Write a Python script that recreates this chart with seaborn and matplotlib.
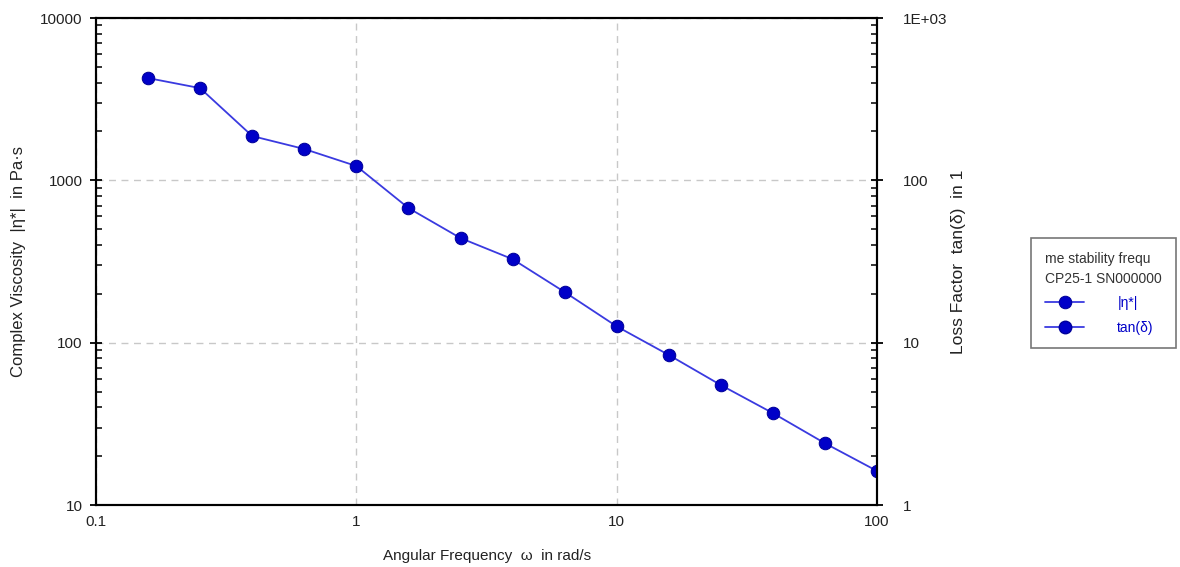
import matplotlib
matplotlib.use("Agg")
import matplotlib.pyplot as plt
import matplotlib.ticker as mticker
import pandas as pd
import seaborn as sns

# angular frequency (rad/s) and complex viscosity (Pa*s)
omega = [0.158, 0.251, 0.398, 0.631, 1.0, 1.585, 2.512, 3.981, 6.31, 10.0,
         15.85, 25.12, 39.81, 63.1, 100.0]
eta = [4270, 3700, 1875, 1560, 1225, 675, 441, 327, 205, 126,
       84, 54.8, 36.8, 24.0, 16.2]
# loss factor has no visible points in the reference
tan_delta = []

legend_title = "me stability frequ\nCP25-1 SN000000"
labels = ["|η*|", "tan(δ)"]

sns.set_style("white")
plt.rcParams["font.family"] = ["Liberation Sans", "DejaVu Sans"]
plt.rcParams["font.size"] = 11

df = pd.DataFrame({"omega": omega, "eta": eta})

fig = plt.figure(figsize=(11.8, 5.67), dpi=100)
ax = fig.add_axes([0.0814, 0.1093, 0.6619, 0.8589])

line_c = "#3a3ae0"
mark_c = "#0000c8"

sns.lineplot(data=df, x="omega", y="eta", ax=ax, color=line_c, lw=1.3,
             marker="o", markersize=9, markerfacecolor=mark_c,
             markeredgecolor="#00009a", label=labels[0], legend=False)

ax.set_xscale("log")
ax.set_yscale("log")
ax.set_xlim(0.1, 100)
ax.set_ylim(10, 10000)
ax.xaxis.set_major_formatter(mticker.FuncFormatter(lambda v, p: f"{v:g}"))
ax.yaxis.set_major_formatter(mticker.FuncFormatter(lambda v, p: f"{v:g}"))
ax.xaxis.set_minor_formatter(mticker.NullFormatter())
ax.yaxis.set_minor_formatter(mticker.NullFormatter())

ax.grid(True, which="major", ls=(0, (5, 4)), color="#c8c8c8", lw=1)
for s in ax.spines.values():
    s.set_color("black")
    s.set_linewidth(1.5)

ax.tick_params(which="major", direction="inout", length=9, width=1.3,
               colors="black", labelcolor="#222222", labelsize=11)
ax.tick_params(which="minor", direction="in", length=4, width=1.1, colors="black")
ax.tick_params(axis="y", which="major", pad=5)
ax.tick_params(axis="x", which="major", pad=3)

ax.set_xlabel("Angular Frequency  ω  in rad/s", fontsize=11, color="#222222", labelpad=14)
ax.set_ylabel("Complex Viscosity  |η*|  in Pa·s", fontsize=12, color="#222222")
ax.yaxis.set_label_coords(-0.09, 0.5)

ax2 = ax.twinx()
ax2.plot(tan_delta, tan_delta, color=line_c, lw=1.3, marker="o", markersize=9,
         markerfacecolor=mark_c, markeredgecolor="#00009a", label=labels[1])
ax2.set_yscale("log")
ax2.set_ylim(1, 1000)
ax2.set_yticks([1, 10, 100, 1000])
ax2.set_yticklabels(["1", "10", "100", "1E+03"])
ax2.yaxis.set_minor_formatter(mticker.NullFormatter())
ax2.tick_params(which="major", direction="inout", length=9, width=1.3,
                colors="black", labelcolor="#222222", labelsize=11, pad=14)
ax2.tick_params(which="minor", direction="in", length=4, width=1.1, colors="black")
ax2.set_ylabel("Loss Factor  tan(δ)  in 1", fontsize=12.5, color="#222222")
ax2.yaxis.set_label_coords(1.095, 0.5)
ax2.grid(False)
for s in ax2.spines.values():
    s.set_color("black")
    s.set_linewidth(1.5)

h1, _ = ax.get_legend_handles_labels()
h2, _ = ax2.get_legend_handles_labels()
leg = fig.legend(h1 + h2, labels, loc="upper left", bbox_to_anchor=(0.868, 0.592),
                 title=legend_title, title_fontsize=10, fontsize=10,
                 labelcolor=mark_c, frameon=True, fancybox=False,
                 edgecolor="#555555", handlelength=2.8, handletextpad=2.4,
                 alignment="left", borderpad=1.0, labelspacing=0.75)
leg.get_frame().set_linewidth(1.2)
leg.get_title().set_color("#333333")
leg.get_title().set_linespacing(1.5)

fig.savefig("out.png", dpi=100)
